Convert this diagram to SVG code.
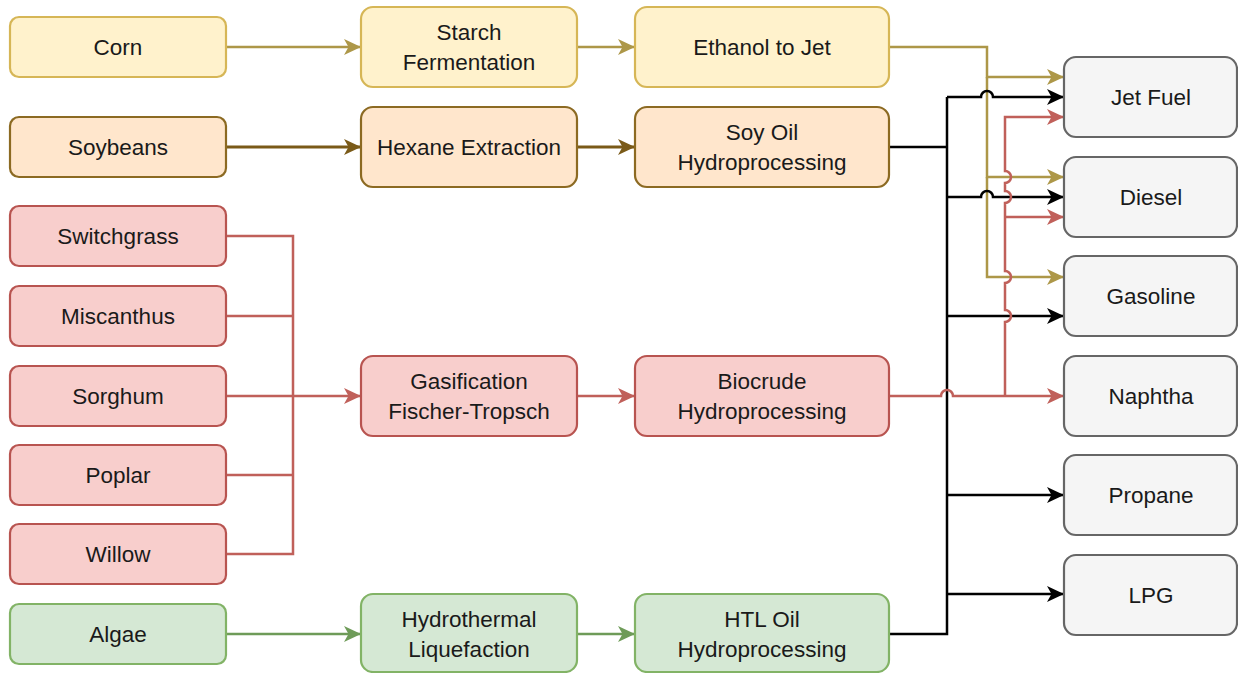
<svg xmlns="http://www.w3.org/2000/svg" width="1238" height="673" viewBox="0 0 1238 673">
  <defs>
    <style>
      text { font-family: "Liberation Sans", Arial, sans-serif; font-size: 22.5px; fill: #1a1a1a; text-anchor: middle; dominant-baseline: central; }
      .box { stroke-width: 2.2; }
      .tan { fill: #fff2cc; stroke: #d6b656; }
      .soy { fill: #ffe6cc; stroke: #8c6a22; }
      .red { fill: #f8cecc; stroke: #b85450; }
      .grn { fill: #d5e8d4; stroke: #82b366; }
      .out { fill: #f5f5f5; stroke: #666666; }
      .e { fill: none; stroke-width: 2.5; stroke-linejoin: miter; }
      .e-tan { stroke: #ad9748; }
      .e-soy { stroke: #7a5a18; stroke-width: 3.2; }
      .e-red { stroke: #c0605a; }
      .e-grn { stroke: #6e9b58; }
      .e-blk { stroke: #000000; }
    </style>
    <marker id="a-tan" markerUnits="userSpaceOnUse" markerWidth="18" markerHeight="16" refX="17" refY="8" orient="auto" viewBox="0 0 18 16">
      <path d="M0,0 L17,8 L0,16 L4.5,8 Z" fill="#ad9748"/>
    </marker>
    <marker id="a-soy" markerUnits="userSpaceOnUse" markerWidth="18" markerHeight="16" refX="17" refY="8" orient="auto" viewBox="0 0 18 16">
      <path d="M0,0 L17,8 L0,16 L4.5,8 Z" fill="#7a5a18"/>
    </marker>
    <marker id="a-red" markerUnits="userSpaceOnUse" markerWidth="18" markerHeight="16" refX="17" refY="8" orient="auto" viewBox="0 0 18 16">
      <path d="M0,0 L17,8 L0,16 L4.5,8 Z" fill="#c0605a"/>
    </marker>
    <marker id="a-grn" markerUnits="userSpaceOnUse" markerWidth="18" markerHeight="16" refX="17" refY="8" orient="auto" viewBox="0 0 18 16">
      <path d="M0,0 L17,8 L0,16 L4.5,8 Z" fill="#6e9b58"/>
    </marker>
    <marker id="a-blk" markerUnits="userSpaceOnUse" markerWidth="18" markerHeight="16" refX="17" refY="8" orient="auto" viewBox="0 0 18 16">
      <path d="M0,0 L17,8 L0,16 L4.5,8 Z" fill="#000000"/>
    </marker>
  </defs>

  <rect width="1238" height="673" fill="#ffffff"/>

  <!-- connectors -->
  <g id="connectors">
    <!-- corn pathway -->
    <path class="e e-tan" d="M226,47 H361" marker-end="url(#a-tan)"/>
    <path class="e e-tan" d="M577,47 H635" marker-end="url(#a-tan)"/>
    <path class="e e-tan" d="M889,47 H987 V77 H1064" marker-end="url(#a-tan)"/>
    <path class="e e-tan" d="M987,77 V177 H1064" marker-end="url(#a-tan)"/>
    <path class="e e-tan" d="M987,177 V277 H1064" marker-end="url(#a-tan)"/>

    <!-- soybean pathway -->
    <path class="e e-soy" d="M226,147 H361" marker-end="url(#a-soy)"/>
    <path class="e e-soy" d="M577,147 H635" marker-end="url(#a-soy)"/>

    <!-- lignocellulosic feedstocks into gasification -->
    <path class="e e-red" stroke-width="3" d="M226,236 H293 V554 H226" />
    <path class="e e-red" d="M226,316 H293" />
    <path class="e e-red" d="M226,475 H293" />
    <path class="e e-red" d="M226,396 H361" marker-end="url(#a-red)"/>
    <path class="e e-red" d="M577,396 H635" marker-end="url(#a-red)"/>

    <!-- algae pathway -->
    <path class="e e-grn" d="M226,634 H361" marker-end="url(#a-grn)"/>
    <path class="e e-grn" d="M577,634 H635" marker-end="url(#a-grn)"/>

    <!-- soy oil / HTL oil products (shared black bus) -->
    <path class="e e-blk" stroke-width="3.5" d="M889,147 H947" />
    <path class="e e-blk" d="M889,634 H947 V97" />
    <path class="e e-blk" d="M947,97 H981 A6,6 0 0 1 993,97 H1064" marker-end="url(#a-blk)"/>
    <path class="e e-blk" d="M947,197 H981 A6,6 0 0 1 993,197 H1064" marker-end="url(#a-blk)"/>
    <path class="e e-blk" d="M947,316 H1064" marker-end="url(#a-blk)"/>
    <path class="e e-blk" d="M947,495 H1064" marker-end="url(#a-blk)"/>
    <path class="e e-blk" d="M947,594 H1064" marker-end="url(#a-blk)"/>

    <!-- biocrude products -->
    <path class="e e-red" d="M889,396 H941 A6,6 0 0 1 953,396 H1064" marker-end="url(#a-red)"/>
    <path class="e e-red" d="M1005,396 V322 A6,6 0 0 0 1005,310 V283 A6,6 0 0 0 1005,271 V203 A6,6 0 0 0 1005,191 V183 A6,6 0 0 0 1005,171 V117 H1064" marker-end="url(#a-red)"/>
    <path class="e e-red" d="M1005,217 H1064" marker-end="url(#a-red)"/>
  </g>

  <!-- feedstocks -->
  <g id="corn"><rect class="box tan" x="10" y="17" width="216" height="60" rx="9"/><text x="118" y="47">Corn</text></g>
  <g id="soybeans"><rect class="box soy" x="10" y="117" width="216" height="60" rx="9"/><text x="118" y="147">Soybeans</text></g>
  <g id="switchgrass"><rect class="box red" x="10" y="206" width="216" height="60" rx="9"/><text x="118" y="236">Switchgrass</text></g>
  <g id="miscanthus"><rect class="box red" x="10" y="286" width="216" height="60" rx="9"/><text x="118" y="316">Miscanthus</text></g>
  <g id="sorghum"><rect class="box red" x="10" y="366" width="216" height="60" rx="9"/><text x="118" y="396">Sorghum</text></g>
  <g id="poplar"><rect class="box red" x="10" y="445" width="216" height="60" rx="9"/><text x="118" y="475">Poplar</text></g>
  <g id="willow"><rect class="box red" x="10" y="524" width="216" height="60" rx="9"/><text x="118" y="554">Willow</text></g>
  <g id="algae"><rect class="box grn" x="10" y="604" width="216" height="60" rx="9"/><text x="118" y="634">Algae</text></g>

  <!-- conversion steps -->
  <g id="starch-fermentation"><rect class="box tan" x="361" y="7" width="216" height="80" rx="12"/><text x="469" y="32">Starch</text><text x="469" y="62">Fermentation</text></g>
  <g id="hexane-extraction"><rect class="box soy" x="361" y="107" width="216" height="80" rx="12"/><text x="469" y="147">Hexane Extraction</text></g>
  <g id="gasification-ft"><rect class="box red" x="361" y="356" width="216" height="80" rx="12"/><text x="469" y="381">Gasification</text><text x="469" y="411">Fischer-Tropsch</text></g>
  <g id="hydrothermal-liquefaction"><rect class="box grn" x="361" y="594" width="216" height="78" rx="12"/><text x="469" y="619">Hydrothermal</text><text x="469" y="649">Liquefaction</text></g>

  <!-- upgrading steps -->
  <g id="ethanol-to-jet"><rect class="box tan" x="635" y="7" width="254" height="80" rx="12"/><text x="762" y="47">Ethanol to Jet</text></g>
  <g id="soy-oil-hydroprocessing"><rect class="box soy" x="635" y="107" width="254" height="80" rx="12"/><text x="762" y="132">Soy Oil</text><text x="762" y="162">Hydroprocessing</text></g>
  <g id="biocrude-hydroprocessing"><rect class="box red" x="635" y="356" width="254" height="80" rx="12"/><text x="762" y="381">Biocrude</text><text x="762" y="411">Hydroprocessing</text></g>
  <g id="htl-oil-hydroprocessing"><rect class="box grn" x="635" y="594" width="254" height="78" rx="12"/><text x="762" y="619">HTL Oil</text><text x="762" y="649">Hydroprocessing</text></g>

  <!-- fuel products -->
  <g id="jet-fuel"><rect class="box out" x="1064" y="57" width="173" height="80" rx="12"/><text x="1151" y="97">Jet Fuel</text></g>
  <g id="diesel"><rect class="box out" x="1064" y="157" width="173" height="80" rx="12"/><text x="1151" y="197">Diesel</text></g>
  <g id="gasoline"><rect class="box out" x="1064" y="256" width="173" height="80" rx="12"/><text x="1151" y="296">Gasoline</text></g>
  <g id="naphtha"><rect class="box out" x="1064" y="356" width="173" height="80" rx="12"/><text x="1151" y="396">Naphtha</text></g>
  <g id="propane"><rect class="box out" x="1064" y="455" width="173" height="80" rx="12"/><text x="1151" y="495">Propane</text></g>
  <g id="lpg"><rect class="box out" x="1064" y="555" width="173" height="80" rx="12"/><text x="1151" y="595">LPG</text></g>
</svg>
